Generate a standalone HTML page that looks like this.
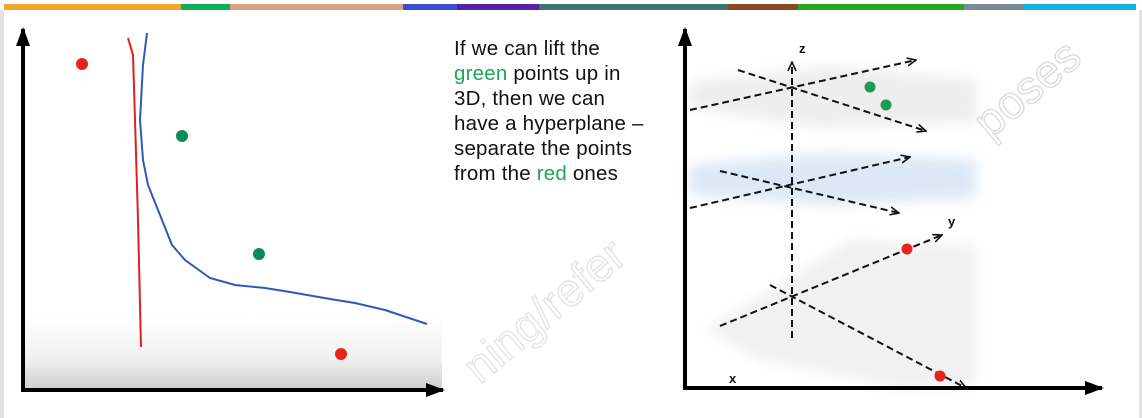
<!DOCTYPE html>
<html><head><meta charset="utf-8"><style>
html,body{margin:0;padding:0;background:#fff;}
body{width:1142px;height:418px;overflow:hidden;position:relative;font-family:"Liberation Sans",sans-serif;}
.txt{position:absolute;left:454px;top:36px;font-size:20.5px;line-height:25px;color:#111;letter-spacing:0.2px;}
.g{color:#22a35a;}
</style></head><body>
<svg width="1142" height="418" style="position:absolute;left:0;top:0">
<defs>
<linearGradient id="lg" x1="0" y1="0" x2="0" y2="1"><stop offset="0" stop-color="#fff"/><stop offset="0.6" stop-color="#f0f0f0"/><stop offset="1" stop-color="#cfcfcf"/></linearGradient>
<filter id="bl"><feGaussianBlur stdDeviation="6"/></filter>
<marker id="ah" markerWidth="20" markerHeight="20" refX="17" refY="10" orient="auto" markerUnits="userSpaceOnUse"><path d="M0,3 L19,10 L0,17 z" fill="#000"/></marker>
<marker id="ad" markerWidth="10" markerHeight="10" refX="9" refY="5" orient="auto" markerUnits="userSpaceOnUse"><path d="M0,1 L9,5 L0,9" fill="none" stroke="#111" stroke-width="1.6"/></marker>
</defs>
<g>
<rect x="4" y="4" width="177" height="6" fill="#f0a72e"/>
<rect x="181" y="4" width="49" height="6" fill="#10ae5a"/>
<rect x="230" y="4" width="173" height="6" fill="#d9a383"/>
<rect x="403" y="4" width="54" height="6" fill="#3c4fd0"/>
<rect x="457" y="4" width="82" height="6" fill="#5421a8"/>
<rect x="539" y="4" width="189" height="6" fill="#3e7568"/>
<rect x="728" y="4" width="70" height="6" fill="#8a4a22"/>
<rect x="798" y="4" width="166" height="6" fill="#25a81b"/>
<rect x="964" y="4" width="60" height="6" fill="#7a8a97"/>
<rect x="1024" y="4" width="112" height="6" fill="#12b1e8"/>
</g>
<rect x="0" y="10" width="4" height="408" fill="#e2e2e2"/>
<rect x="1139" y="10" width="3" height="408" fill="#e2e2e2"/>
<g>
<rect x="24" y="318" width="418" height="70" fill="url(#lg)"/>
<line x1="23" y1="390" x2="23" y2="29" stroke="#000" stroke-width="4" marker-end="url(#ah)"/>
<line x1="21" y1="390" x2="443" y2="390" stroke="#000" stroke-width="4" marker-end="url(#ah)"/>
<polyline fill="none" stroke="#e02020" stroke-width="2" points="128,38 133,55 135,120 138,220 141,347"/>
<polyline fill="none" stroke="#2e5bb8" stroke-width="2" points="147,33 143,65 140,120 143,160 148,185 160,215 172,245 185,260 210,278 235,285 265,288 290,292 330,299 355,303 385,310 427,324"/>
<circle cx="82" cy="64" r="6" fill="#e8231c"/>
<circle cx="341" cy="354" r="6" fill="#e8231c"/>
<circle cx="182" cy="136" r="6" fill="#0a8c5a"/>
<circle cx="259" cy="254" r="6" fill="#0a8c5a"/>
</g>
<g>
<g filter="url(#bl)">
<polygon points="690,82 830,66 976,80 976,122 820,128 690,108" fill="#eeeeee"/>
<polygon points="690,165 830,153 976,160 976,198 830,205 690,195" fill="#dce8f5"/>
<polygon points="705,330 850,240 976,245 976,385 900,388 760,360" fill="#f1f1f1"/>
</g>
<g stroke="#111" stroke-width="2" stroke-dasharray="7,4" fill="none">
<line x1="792" y1="338" x2="792" y2="62" marker-end="url(#ad)"/>
<line x1="690" y1="110" x2="916" y2="60" marker-end="url(#ad)"/>
<line x1="738" y1="70" x2="926" y2="131" marker-end="url(#ad)"/>
<line x1="690" y1="208" x2="910" y2="157" marker-end="url(#ad)"/>
<line x1="720" y1="171" x2="899" y2="213" marker-end="url(#ad)"/>
<line x1="720" y1="326" x2="942" y2="235" marker-end="url(#ad)"/>
<line x1="770" y1="285" x2="966" y2="388" marker-end="url(#ad)"/>
</g>
<text x="799" y="53" font-size="13" font-weight="bold" fill="#111">z</text>
<text x="948" y="226" font-size="13" font-weight="bold" fill="#111">y</text>
<text x="729" y="383" font-size="13" font-weight="bold" fill="#111">x</text>
<circle cx="870" cy="87" r="5.5" fill="#1a9a55"/>
<circle cx="886" cy="105" r="5.5" fill="#1a9a55"/>
<circle cx="907" cy="249" r="5.5" fill="#e8231c"/>
<circle cx="940" cy="376" r="5.5" fill="#e8231c"/>
<line x1="685" y1="389" x2="685" y2="29" stroke="#000" stroke-width="4" marker-end="url(#ah)"/>
<line x1="683" y1="388" x2="1102" y2="388" stroke="#000" stroke-width="4" marker-end="url(#ah)"/>
</g>
<text x="990" y="140" font-size="46" fill="none" stroke="#dedede" stroke-width="1.5" transform="rotate(-40 990 140)">poses</text>
<text x="480" y="385" font-size="46" fill="none" stroke="#e6e6e6" stroke-width="1.5" transform="rotate(-40 480 385)">ning/refer</text>
</svg>
<div class="txt">If we can lift the<br><span class="g">green</span> points up in<br>3D, then we can<br>have a hyperplane –<br>separate the points<br>from the <span class="g">red</span> ones</div>
</body></html>
